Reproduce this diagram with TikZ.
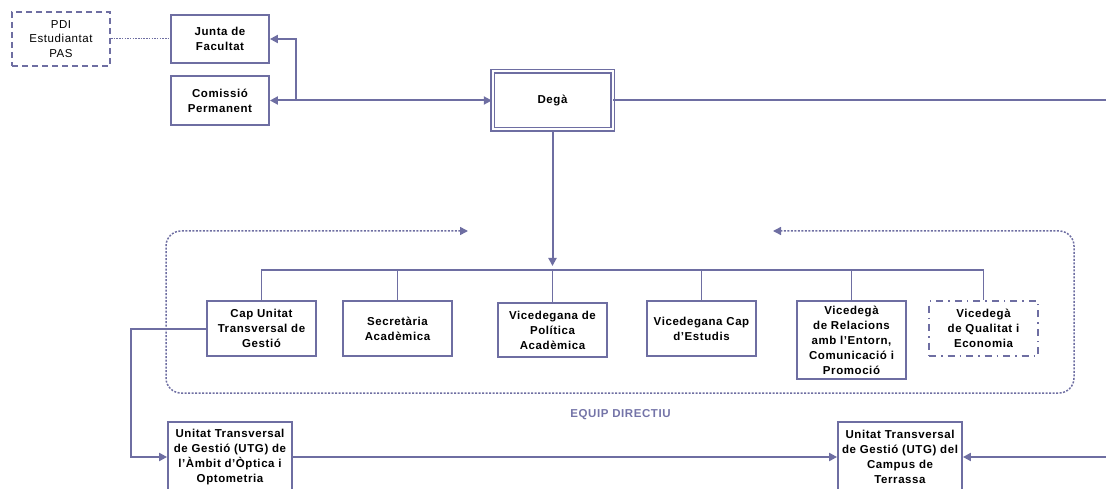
\documentclass[tikz,border=0pt]{standalone}
\usepackage{fontspec}
\setmainfont{Liberation Sans}[LetterSpace=5]
\usetikzlibrary{arrows.meta}
\definecolor{lc}{HTML}{6E6EA2}
\definecolor{lbl}{HTML}{7474A8}
\tikzset{
  box/.style={draw=lc, line width=1.8pt, fill=white, align=center, inner sep=1pt,
    font=\fontsize{11.5}{15}\selectfont\bfseries},
  pdibox/.style={draw=lc, line width=2pt, dash pattern=on 6pt off 4pt, align=center,
    inner sep=1pt, font=\fontsize{11.5}{14.5}\selectfont},
  qualbox/.style={box, dash pattern=on 7pt off 5pt on 1.5pt off 5pt},
  degabox/.style={box, line width=1.4pt, double=white, double distance=2pt},
  conn/.style={draw=lc, line width=2pt},
  arr/.style={conn, -{Triangle[length=8pt,width=8pt]}},
  bus/.style={draw=lc, line width=1.3pt},
  dots/.style={draw=lc, line width=1.5pt, dash pattern=on 2pt off 1.5pt},
  loopline/.style={dots, rounded corners=15pt, {Triangle[length=8pt,width=8pt]}-{Triangle[length=8pt,width=8pt]}}
}
\begin{document}
\begin{tikzpicture}[x=1pt,y=-1pt]
\useasboundingbox (0,0) rectangle (1106,489);
\clip (0,0) rectangle (1106,489);

% top row
\node[pdibox, minimum width=98pt, minimum height=54pt] (pdi) at (61,39) {PDI\\Estudiantat\\PAS};
\node[box, minimum width=98pt, minimum height=48pt] (junta) at (220,39) {Junta de\\Facultat};
\node[box, minimum width=98pt, minimum height=49pt] (comissio) at (220,100.5) {Comissió\\Permanent};
\node[degabox, minimum width=120pt, minimum height=58pt] (dega) at (552.5,100.5) {Degà};

% team
\node[box, minimum width=109pt, minimum height=55pt] (cap) at (261.5,328.5) {Cap Unitat\\Transversal de\\Gestió};
\node[box, minimum width=109pt, minimum height=55pt] (secr) at (397.5,328.5) {Secretària\\Acadèmica};
\node[box, minimum width=109pt, minimum height=54pt] (polit) at (552.5,330) {Vicedegana de\\Política\\Acadèmica};
\node[box, minimum width=109pt, minimum height=55pt] (capest) at (701.5,328.5) {Vicedegana Cap\\d’Estudis};
\node[box, minimum width=109pt, minimum height=78pt] (relac) at (851.5,340) {Vicedegà\\de Relacions\\amb l’Entorn,\\Comunicació i\\Promoció};
\node[qualbox, minimum width=109pt, minimum height=55pt] (qual) at (983.5,328.5) {Vicedegà\\de Qualitat i\\Economia};

\node[font=\fontsize{11.5}{14}\selectfont\bfseries, text=lbl] (eq) at (620.5,415) {EQUIP DIRECTIU};

% bottom
\node[box, minimum width=124pt, minimum height=70pt] (utgopt) at (230,457) {Unitat Transversal\\de Gestió (UTG) de\\l’Àmbit d’Òptica i\\Optometria};
\node[box, minimum width=124pt, minimum height=70pt] (utgter) at (900,457) {Unitat Transversal\\de Gestió (UTG) del\\Campus de\\Terrassa};

% coordinates
\coordinate (jn) at (296,100.5);
\coordinate (rtop) at (1106,100.5);
\coordinate (busL) at (261.5,270);
\coordinate (dbus) at (552.5,266);
\coordinate (capc) at (131,328.5);
\coordinate (rbot) at (1106,457);
\coordinate (la) at (468,231);
\coordinate (l1) at (166,231);
\coordinate (l2) at (166,393);
\coordinate (l3) at (1074,393);
\coordinate (l4) at (1074,231);
\coordinate (lb) at (773,231);

% connectors top
\draw[draw=lc, line width=1pt, dash pattern=on 1.5pt off 1.2pt] (pdi.east) -- (junta.west);
\draw[arr] (jn) -- (dega.west);
\draw[arr] (jn) -- (comissio.east);
\draw[arr] (jn) |- (junta.east);
\draw[conn] (dega.east) -- (rtop);
\draw[arr] (dega.south) -- (dbus);

% bus
\draw[bus] (cap.north) |- (busL) -| (qual.north);
\draw[bus] (busL) -| (secr.north);
\draw[bus] (busL) -| (polit.north);
\draw[bus] (busL) -| (capest.north);
\draw[bus] (busL) -| (relac.north);

% dotted loop
\draw[loopline] (la) -- (l1) -- (l2) -- (l3) -- (l4) -- (lb);

% bottom connectors
\draw[arr] (cap.west) -- (capc) |- (utgopt.west);
\draw[arr] (utgopt.east) -- (utgter.west);
\draw[arr] (rbot) -- (utgter.east);
\end{tikzpicture}
\end{document}
